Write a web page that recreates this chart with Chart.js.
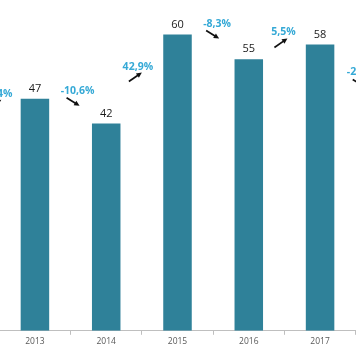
<!DOCTYPE html>
<html>
<head>
<meta charset="utf-8">
<script src="https://cdn.jsdelivr.net/npm/chart.js@4"></script>
<style>
    html, body { margin: 0; padding: 0; background: #ffffff; overflow: hidden; }
    #wrap { position: relative; width: 356px; height: 354px; overflow: hidden; }
    /* the picture is a crop of a wider chart, so the canvas runs past both edges */
    #box { position: absolute; left: -72px; top: 0; width: 499px; height: 354px; }
</style>
</head>
<body>
<div id="wrap"><div id="box"><canvas id="chart"></canvas></div></div>
<script>
// ===== Data =====
const years = ['2012', '2013', '2014', '2015', '2016', '2017', '2018'];
const values = [42, 47, 42, 60, 55, 58, 46];
// growth label between year i and i+1
const growthLabels = ['11,4%', '-10,6%', '42,9%', '-8,3%', '5,5%', '-20,7%'];

// ===== Hand placement of the growth notes (px, relative to the higher bar top) =====
const growthDx = [-2, 7, -4, 4, -1, 8];
const growthDy = [-5, -8, 32, -11, -12, 28];

const barColor = '#2f8199';
const noteColor = '#35a9d6';
const FONT = '"Open Sans", "DejaVu Sans", sans-serif';

// ===== Labels + arrows plugin =====
const notesPlugin = {
    id: 'notes',
    afterDatasetsDraw(chart) {
        const ctx = chart.ctx;
        const meta = chart.getDatasetMeta(0);
        ctx.save();
        ctx.textAlign = 'center';
        ctx.textBaseline = 'middle';

        // value labels above bars
        ctx.font = '11px ' + FONT;
        ctx.fillStyle = '#1a1a1a';
        meta.data.forEach((bar, i) => {
            ctx.fillText(String(values[i]), bar.x, bar.y - 10);
        });

        // growth labels with arrows
        growthLabels.forEach((txt, i) => {
            const a = meta.data[i], b = meta.data[i + 1];
            const cx = (a.x + b.x) / 2 + growthDx[i];
            const cy = Math.min(a.y, b.y) + growthDy[i];
            ctx.font = 'bold 10.5px ' + FONT;
            ctx.fillStyle = noteColor;
            ctx.fillText(txt, cx, cy);

            let x1, y1, x2, y2;
            if (values[i + 1] >= values[i]) {
                x1 = cx - 9; y1 = cy + 15; x2 = cx + 4; y2 = cy + 6;
            } else {
                x1 = cx - 11; y1 = cy + 7; x2 = cx + 2; y2 = cy + 15;
            }
            drawArrow(ctx, x1, y1, x2, y2);
        });
        ctx.restore();
    }
};

function drawArrow(ctx, x1, y1, x2, y2) {
    const ang = Math.atan2(y2 - y1, x2 - x1);
    const head = 6;
    ctx.strokeStyle = '#111111';
    ctx.fillStyle = '#111111';
    ctx.lineWidth = 1.7;
    ctx.beginPath();
    ctx.moveTo(x1, y1);
    ctx.lineTo(x2 - Math.cos(ang) * 3, y2 - Math.sin(ang) * 3);
    ctx.stroke();
    ctx.beginPath();
    ctx.moveTo(x2, y2);
    ctx.lineTo(x2 - head * Math.cos(ang - 0.45), y2 - head * Math.sin(ang - 0.45));
    ctx.lineTo(x2 - head * Math.cos(ang + 0.45), y2 - head * Math.sin(ang + 0.45));
    ctx.closePath();
    ctx.fill();
}

// ===== Chart =====
const chart = new Chart(document.getElementById('chart').getContext('2d'), {
    type: 'bar',
    data: {
        labels: years,
        datasets: [{
            data: values,
            backgroundColor: barColor,
            borderWidth: 0,
            categoryPercentage: 1.0,
            barPercentage: 0.4
        }]
    },
    options: {
        responsive: true,
        maintainAspectRatio: false,
        animation: false,
        layout: { padding: { top: 0, bottom: 5, left: 0, right: 0 } },
        plugins: { legend: { display: false }, tooltip: { enabled: false } },
        scales: {
            x: {
                grid: {
                    offset: true,
                    drawOnChartArea: false,
                    drawTicks: true,
                    tickLength: 4,
                    color: '#bfbfbf'
                },
                border: { color: '#bfbfbf', width: 1 },
                ticks: {
                    color: '#595959',
                    padding: 2,
                    font: { family: FONT, size: 8.5 },
                    maxRotation: 0,
                    autoSkip: false
                }
            },
            y: {
                display: false,
                min: 0,
                max: 67
            }
        }
    },
    plugins: [notesPlugin]
});
</script>
</body>
</html>
